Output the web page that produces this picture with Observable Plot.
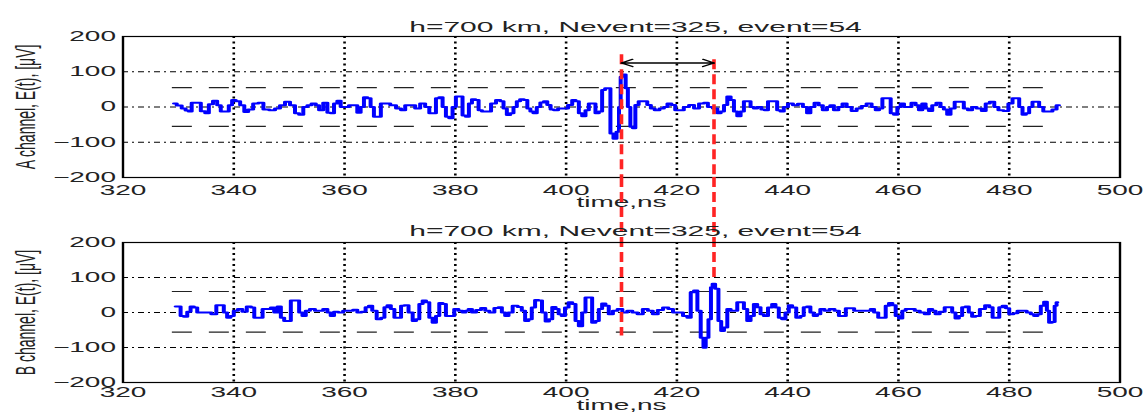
<!DOCTYPE html>
<html><head><meta charset="utf-8">
<script src="https://cdn.jsdelivr.net/npm/d3@7"></script>
<script src="https://cdn.jsdelivr.net/npm/@observablehq/plot@0.6"></script>
<style>
html,body{margin:0;padding:0;background:#fff;}
#wrap{position:relative;width:1147px;height:414px;overflow:hidden;background:#fff;}
.panel{position:absolute;left:0;width:573.5px;height:207px;transform:scaleX(2);transform-origin:0 0;}
.panel svg{overflow:visible;}
</style></head>
<body>
<div id="wrap"><div class="panel" id="pA" style="top:0"></div><div class="panel" id="pB" style="top:207px"></div></div>
<script>
// ---- data ----
const titleText = "h=700 km, Nevent=325, event=54";
const yLabelA = "A channel, E(t), [\u03bcV]";
const yLabelB = "B channel, E(t), [\u03bcV]";
const xLabel = "time,ns";
const xTicks = [320, 340, 360, 380, 400, 420, 440, 460, 480, 500];
const yTicks = [-200, -100, 0, 100, 200];
const xGrid = [340, 360, 380, 400, 420, 440, 460, 480];
const yGrid = [-100, 0, 100];
const xDomain = [320, 500];
const yDomain = [-200, 200];
const thrSpan = [329, 489];
const thrA = [55, -55];
const thrB = [60, -56];
const redTimes = [410, 426.7];
const redTopA = [148, 134];      // upper end of red markers in channel A
const redBottomB = [-67, 87];    // lower end of red markers in channel B
const arrowLevel = 125;

const tA = [329.2,330.2,331.0,331.6,332.1,332.7,333.6,334.5,335.2,335.8,336.7,337.3,338.0,338.8,339.4,340.0,340.7,341.6,342.2,343.0,344.0,344.9,345.8,347.0,347.9,348.8,349.7,350.6,351.5,352.1,353.0,353.6,354.5,355.1,355.7,356.6,357.2,357.8,358.4,359.0,359.6,360.5,361.1,362.0,362.6,363.2,363.8,364.4,365.0,365.6,366.2,366.9,367.8,368.7,369.9,370.5,371.4,372.3,373.2,374.1,375.0,375.6,376.2,376.8,377.4,378.0,378.6,379.2,379.8,380.4,381.0,381.6,382.2,382.7,383.3,383.9,384.5,385.1,386.0,386.9,387.8,388.4,389.0,389.6,390.2,390.8,391.4,392.0,392.7,393.3,393.8,394.4,395.0,395.7,396.3,396.9,397.5,398.1,399.0,399.9,400.8,401.4,402.0,402.6,403.2,403.8,404.4,405.0,405.6,406.2,406.8,407.3,407.7,408.3,408.8,409.4,409.7,410.0,410.5,411.0,411.3,411.9,412.2,412.8,413.4,414.3,415.0,415.6,416.4,417.3,418.0,418.6,419.4,420.0,420.9,421.6,422.8,423.4,424.6,425.2,426.0,427.0,427.6,428.2,428.8,429.4,430.0,430.6,431.2,431.8,432.4,433.0,433.6,434.2,434.8,435.7,436.0,436.9,437.8,438.4,439.0,439.6,440.5,441.4,442.3,443.2,443.8,444.4,445.3,445.9,446.8,447.4,448.0,448.7,449.6,450.2,451.1,452.0,452.9,453.8,454.7,455.6,456.2,456.8,457.4,458.3,458.9,459.5,460.1,460.7,461.3,461.9,462.8,463.4,464.0,464.6,465.2,465.8,466.4,467.3,467.9,468.5,469.1,469.7,470.6,471.5,472.1,473.0,473.6,474.6,475.5,476.0,477.0,477.6,478.5,479.4,480.3,480.9,481.5,482.1,482.7,483.3,483.9,484.5,485.1,485.7,486.6,487.5,488.1,489.0];
const vA = [10,4,-4,-10,-13,12,12,-12,-18,8,18,5,-13,-13,5,20,16,5,-14,-7,10,12,-7,-9,-4,5,15,5,-18,-22,0,5,10,5,-9,12,-16,-18,10,18,0,0,5,5,-16,0,28,25,0,-28,-28,10,10,5,-4,-9,5,5,-4,10,0,-18,-18,25,28,0,-28,-32,0,30,30,-24,-28,10,22,20,-9,-13,-13,10,20,16,-4,-23,-18,0,16,22,20,-4,-13,-18,0,13,16,6,-7,-9,-4,-4,6,20,16,-18,-26,-9,10,10,-18,-13,48,53,53,-75,-90,-70,0,86,92,53,0,-56,-60,6,16,16,6,-4,-9,-4,0,10,6,-9,-9,0,6,-4,10,12,0,-4,-18,-13,6,30,20,-13,-26,-13,16,16,0,-4,0,-7,-9,16,16,-9,-13,0,10,5,9,0,-18,0,12,5,-9,0,5,-9,0,10,0,-11,-4,3,10,0,-9,-4,25,25,-18,-22,0,10,0,0,12,5,-9,10,-4,-11,5,12,0,-7,-22,-4,15,15,-4,-9,0,-4,-11,10,15,0,-9,-11,10,25,25,0,-22,-18,0,15,15,0,-13,-13,-7,5];

const tB = [329.5,330.1,330.7,331.3,331.9,332.5,333.1,333.7,334.6,335.5,336.4,337.3,337.9,338.5,339.1,339.7,340.3,341.2,341.9,342.8,343.4,344.0,344.9,345.5,346.4,347.0,347.6,348.2,348.8,349.4,350.0,350.6,351.5,352.1,352.7,353.3,354.2,355.1,355.7,356.6,357.2,357.8,358.4,359.3,360.2,361.1,362.0,362.6,363.5,364.1,364.7,365.3,366.3,366.9,367.5,368.0,368.7,369.3,369.9,370.5,371.1,372.0,372.6,373.2,373.8,374.4,375.0,375.6,376.2,376.8,377.4,378.0,378.6,379.5,380.1,381.0,381.6,382.1,382.7,383.3,384.2,385.1,385.7,386.6,387.5,388.1,388.7,389.3,389.9,390.8,391.7,392.3,392.9,393.5,394.1,394.7,395.3,396.0,396.6,397.2,397.8,398.4,398.9,399.5,400.1,400.8,401.4,402.0,402.6,403.2,403.8,404.4,405.0,405.6,406.2,406.8,407.4,408.0,408.9,409.7,410.6,411.5,412.4,413.4,414.3,415.2,416.1,417.0,418.0,418.9,419.7,420.6,421.6,422.2,422.8,423.4,424.0,424.6,425.0,425.4,426.0,426.3,426.6,427.2,427.8,428.2,428.8,429.4,430.0,430.6,431.2,431.8,432.4,433.0,433.6,434.2,434.8,435.4,436.0,436.9,437.5,438.1,438.7,439.3,439.9,440.5,441.1,442.0,442.6,443.2,443.8,444.4,445.0,445.6,446.2,447.1,448.0,448.9,449.6,450.2,450.8,451.7,452.3,453.5,454.7,455.3,455.9,456.8,457.4,458.0,458.6,459.2,459.8,460.4,461.0,461.6,462.5,463.4,464.3,465.2,465.8,466.4,467.0,467.9,468.8,469.4,470.0,470.6,471.2,471.8,472.4,473.0,473.6,474.2,475.2,476.1,476.7,477.3,477.9,478.5,479.1,479.7,480.3,481.2,481.8,482.7,483.6,484.2,484.8,485.4,486.0,486.6,487.0,487.4,488.0,488.4,488.7];
const vB = [17,17,-10,-12,2,17,14,0,0,0,-5,21,21,0,-15,-10,5,10,2,17,14,-15,-15,10,10,14,0,17,-15,-24,-24,34,34,0,-10,5,10,5,5,10,0,-10,2,0,5,5,8,0,2,15,19,5,-19,-15,15,21,10,-15,-15,19,21,0,-24,-19,24,34,29,-15,-29,-10,27,24,-10,-10,10,5,0,5,10,0,7,13,5,0,13,15,0,-10,0,19,16,5,-24,-19,14,36,34,0,-26,-19,16,10,-5,-10,14,29,24,-24,-39,0,43,43,-29,-24,10,26,19,-5,5,10,0,5,0,-5,10,5,-5,7,14,10,0,0,-10,-15,58,63,5,-72,-101,-72,-19,72,82,68,-24,-53,-43,10,5,5,29,29,10,-24,-10,24,15,-5,-10,14,24,14,-15,-19,0,21,14,-15,-10,15,17,0,-10,-5,10,5,10,5,-10,-10,12,12,5,5,5,10,0,-15,-15,19,27,21,-10,-17,5,10,10,5,0,-5,10,5,-5,2,15,15,0,-17,-10,15,17,0,-12,-10,10,21,15,-15,-15,15,19,12,-5,-2,5,5,0,-5,-10,-5,19,31,5,-29,-27,19,29];

// ---- drawing ----
const W = 573.5, H = 207;
const FONT = "'Liberation Sans', Arial, Helvetica, sans-serif";
const TXT = "#222";

function panel({t, v, thr, ylabel, mt, mb, tickPad, titleDy, xlabDy, extra}) {
  const pts = t.map((x, i) => ({t: x, v: v[i]}));
  const thrRows = thr.map(y => ({y, x1: thrSpan[0], x2: thrSpan[1]}));
  return Plot.plot({
    width: W, height: H,
    marginLeft: 61, marginRight: 14, marginTop: mt, marginBottom: mb,
    x: {domain: xDomain},
    y: {domain: yDomain},
    style: {fontFamily: FONT, fontSize: "14px", color: TXT, background: "transparent", overflow: "visible"},
    marks: [
      Plot.ruleY(yGrid, {stroke: "black", strokeWidth: 1, strokeDasharray: "3,2,1,2"}),
      Plot.ruleX(xGrid, {stroke: "black", strokeWidth: 1.3, strokeDasharray: "2,3.5"}),
      Plot.ruleY(thrRows, {y: "y", x1: "x1", x2: "x2", stroke: "#222", strokeWidth: 1.1, strokeDasharray: "10,8.5"}),
      Plot.line(pts, {x: "t", y: "v", stroke: "#0000ff", strokeWidth: 2, curve: "step"}),
      ...extra,
      Plot.frame({stroke: "black", strokeWidth: 1.2}),
      Plot.axisX({ticks: xTicks, tickSize: 0, tickPadding: tickPad, label: null, fontSize: 14}),
      Plot.axisY({ticks: yTicks, tickSize: 0, tickPadding: 3.5, label: null, fontSize: 14}),
      Plot.text([titleText], {text: d => d, frameAnchor: "top", dy: titleDy, dx: 7, fontSize: 15, fill: TXT}),
      Plot.text([ylabel], {text: d => d, frameAnchor: "left", textAnchor: "middle", dx: -48.5, rotate: -90, fontSize: 14, fill: TXT}),
      Plot.text([xLabel], {text: d => d, frameAnchor: "bottom", dy: xlabDy, fontSize: 14, fill: TXT})
    ]
  });
}

const redRowsA = redTimes.map((x, i) => ({x, y1: redTopA[i], y2: yDomain[0]}));
const redRowsB = redTimes.map((x, i) => ({x, y1: yDomain[1], y2: redBottomB[i]}));
const arrowRows = [
  {x1: redTimes[0], x2: redTimes[1], y: arrowLevel},
  {x1: redTimes[1], x2: redTimes[0], y: arrowLevel}
];

const plotA = panel({
  t: tA, v: vA, thr: thrA, ylabel: yLabelA, mt: 36, mb: 30, tickPad: 8, titleDy: -15, xlabDy: 29,
  extra: [
    Plot.ruleX(redRowsA, {x: "x", y1: "y1", y2: "y2", stroke: "#ff2424", strokeWidth: 1.8, strokeDasharray: "10,5"}),
    Plot.arrow(arrowRows, {x1: "x1", x2: "x2", y1: "y", y2: "y", bend: 0, headAngle: 67, headLength: 9, stroke: "black", strokeWidth: 1.1})
  ]
});
const plotB = panel({
  t: tB, v: vB, thr: thrB, ylabel: yLabelB, mt: 35, mb: 32, tickPad: 5, titleDy: -17, xlabDy: 27,
  extra: [
    Plot.ruleX(redRowsB, {x: "x", y1: "y1", y2: "y2", insetTop: -65, stroke: "#ff2424", strokeWidth: 1.8, strokeDasharray: "10,5"})
  ]
});
document.getElementById("pA").append(plotA);
document.getElementById("pB").append(plotB);
</script>
</body></html>
